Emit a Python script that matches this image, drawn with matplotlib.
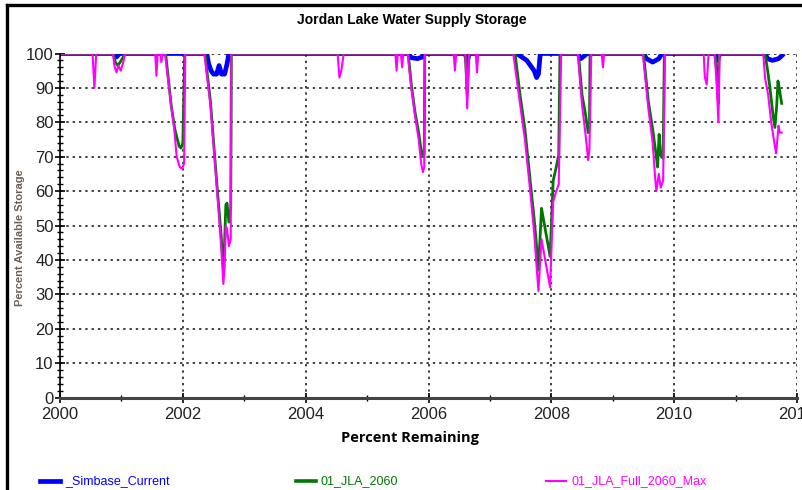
import matplotlib
matplotlib.use("Agg")
import matplotlib.pyplot as plt
from matplotlib.lines import Line2D
from matplotlib.ticker import MultipleLocator

# series (year, percent available storage)
simbase_years = [2000.00,
                 2000.87, 2000.92, 2000.97,
                 2002.39, 2002.42, 2002.46, 2002.50, 2002.55, 2002.59, 2002.63, 2002.68, 2002.72, 2002.75,
                 2005.67, 2005.72, 2005.82, 2005.90, 2005.94,
                 2006.60, 2006.63, 2006.66,
                 2007.43, 2007.50, 2007.60, 2007.66, 2007.72, 2007.76, 2007.79, 2007.82,
                 2008.43, 2008.48, 2008.55, 2008.58,
                 2009.50, 2009.55, 2009.65, 2009.75, 2009.80,
                 2010.68, 2010.71, 2010.74,
                 2011.48, 2011.52, 2011.60, 2011.70, 2011.76]
simbase_vals = [100,
                100, 99, 100,
                100, 97, 95, 94, 94, 96.5, 94, 94, 97, 100,
                100, 98.8, 98.5, 99, 100,
                100, 97.5, 100,
                100, 99.2, 98, 96.5, 95, 93, 94, 100,
                100, 98.5, 99.5, 100,
                100, 98.5, 97.5, 98.5, 100,
                100, 98, 100,
                100, 98.5, 98, 98.5, 99.5]

jla_years = [2000.00,
             2000.87, 2000.90, 2000.94, 2000.98, 2001.03, 2001.05,
             2001.72, 2001.81, 2001.87, 2001.94, 2001.97, 2002.00, 2002.03,
             2002.36, 2002.45, 2002.55, 2002.62, 2002.66, 2002.68, 2002.70, 2002.72, 2002.75, 2002.78, 2002.79,
             2005.67, 2005.72, 2005.78, 2005.84, 2005.88, 2005.91, 2005.93, 2005.94,
             2006.60, 2006.63, 2006.66,
             2007.41, 2007.49, 2007.57, 2007.65, 2007.72, 2007.76, 2007.79, 2007.84, 2007.90, 2007.98,
             2008.03, 2008.08, 2008.12, 2008.14,
             2008.44, 2008.50, 2008.55, 2008.60, 2008.62, 2008.63,
             2009.50, 2009.58, 2009.65, 2009.71, 2009.73, 2009.755, 2009.78, 2009.82, 2009.84,
             2010.66, 2010.69, 2010.72, 2010.73,
             2011.48, 2011.53, 2011.56, 2011.61, 2011.64, 2011.67, 2011.69, 2011.71, 2011.75]
jla_vals = [100,
            100, 97.5, 96.5, 97.5, 99, 100,
            100, 85, 78, 73, 72.5, 74, 100,
            100, 86, 63, 48, 38, 45, 56, 56.5, 51, 55, 100,
            100, 91, 83, 77, 72, 70, 71, 100,
            100, 88, 100,
            100, 88, 78, 64, 52, 44, 37, 55, 49, 41,
            63, 67, 70.5, 100,
            100, 88, 83, 77, 78, 100,
            100, 86, 78, 70, 67, 76.5, 70.5, 69.5, 100,
            100, 95, 85.5, 100,
            100, 94, 90, 82, 78.5, 85, 92, 90, 85.5]

full_years = [2000.00,
              2000.53, 2000.56, 2000.59,
              2000.86, 2000.89, 2000.92, 2000.95, 2000.99, 2001.03, 2001.06,
              2001.55, 2001.57, 2001.59, 2001.63, 2001.65, 2001.67,
              2001.71, 2001.79, 2001.86, 2001.90, 2001.95, 2001.99, 2002.02, 2002.04,
              2002.35, 2002.45, 2002.55, 2002.62, 2002.66, 2002.68, 2002.70, 2002.72, 2002.75, 2002.78, 2002.79,
              2004.52, 2004.55, 2004.58, 2004.62,
              2005.46, 2005.48, 2005.50, 2005.55, 2005.57, 2005.59,
              2005.66, 2005.72, 2005.78, 2005.84, 2005.88, 2005.91, 2005.93, 2005.94,
              2006.41, 2006.43, 2006.45, 2006.60, 2006.63, 2006.66, 2006.77, 2006.79, 2006.81,
              2007.38, 2007.47, 2007.57, 2007.65, 2007.72, 2007.76, 2007.79, 2007.84, 2007.90, 2007.98,
              2008.03, 2008.08, 2008.12, 2008.16,
              2008.43, 2008.50, 2008.56, 2008.60, 2008.62, 2008.65,
              2008.82, 2008.84, 2008.86,
              2009.49, 2009.58, 2009.65, 2009.69, 2009.71, 2009.75, 2009.78, 2009.82, 2009.85,
              2010.48, 2010.50, 2010.53, 2010.56, 2010.66, 2010.69, 2010.72, 2010.74,
              2011.45, 2011.48, 2011.53, 2011.58, 2011.64, 2011.66, 2011.70, 2011.72, 2011.75]
full_vals = [100,
             100, 90, 100,
             100, 96, 94.5, 96.5, 95, 97.5, 100,
             100, 93.5, 100, 100, 97.5, 100,
             100, 88, 78, 70, 67, 66.5, 68, 100,
             100, 85, 62, 45, 33, 38, 50, 49, 44, 46, 100,
             100, 93, 95, 100,
             100, 95, 100, 100, 96, 100,
             100, 90, 82, 75, 68, 65.5, 67, 100,
             100, 95, 100, 100, 84, 100, 100, 94.5, 100,
             100, 88, 75, 61, 48, 38, 31, 46, 40, 32,
             57, 60, 62, 100,
             100, 85, 76, 69, 72, 100,
             100, 96, 100,
             100, 84, 74, 64, 60, 65, 61, 63, 100,
             100, 93, 91, 100, 100, 92, 80, 100,
             100, 93, 88, 80, 73, 71, 79, 77, 77]

names = ["_Simbase_Current", "01_JLA_2060", "01_JLA_Full_2060_Max"]
colors = ["#0000ff", "#007800", "#ff00ff"]

narrow = ["Liberation Sans", "DejaVu Sans"]

fig = plt.figure(figsize=(8.03, 4.90), dpi=100)
ax = fig.add_axes([60 / 803, 1 - 397.5 / 490, 737 / 803, 344 / 490])

ax.plot(simbase_years, simbase_vals, color=colors[0], lw=3.4, solid_joinstyle="round")
ax.plot(jla_years, jla_vals, color=colors[1], lw=2.0)
ax.plot(full_years, full_vals, color=colors[2], lw=1.5)

ax.set_xlim(2000, 2012)
ax.set_ylim(0, 100)
ax.xaxis.set_major_locator(MultipleLocator(2))
ax.xaxis.set_minor_locator(MultipleLocator(1))
ax.yaxis.set_major_locator(MultipleLocator(10))
ax.yaxis.set_minor_locator(MultipleLocator(2))
ax.grid(True, which="major", color="#333333", linestyle=(0, (1.3, 2.2)), linewidth=1.3)
ax.tick_params(axis="both", which="major", direction="inout", length=7, width=1.2, labelsize=12, pad=1)
ax.tick_params(axis="x", which="major", pad=3)
ax.tick_params(axis="both", which="minor", direction="inout", length=5, width=1.0)
for lab in ax.get_xticklabels() + ax.get_yticklabels():
    lab.set_family(narrow)
    lab.set_color("#222222")
ax.spines["top"].set_visible(False)
ax.spines["right"].set_visible(False)
ax.spines["bottom"].set_linewidth(2.2)
ax.spines["bottom"].set_color("#444444")
ax.spines["left"].set_linewidth(1.2)

fig.text(412 / 803, 1 - 20 / 490, "Jordan Lake Water Supply Storage", ha="center", va="center",
         fontsize=10, fontweight="bold", family=narrow)
fig.text(410 / 803, 1 - 438 / 490, "Percent Remaining", ha="center", va="center",
         fontsize=10.5, fontweight="bold", family=["Open Sans", "DejaVu Sans"])
fig.text(20 / 803, 1 - 238 / 490, "Percent Available Storage", ha="center", va="center",
         rotation=90, fontsize=8, fontweight="bold", color="#6e5f55", family=narrow)

# legend row along the bottom
leg_x = [40, 296, 546]
leg_w = [3.4, 2.6, 1.5]
for i in range(3):
    x0 = leg_x[i] / 803
    fig.add_artist(Line2D([x0, x0 + 20 / 803], [1 - 481 / 490] * 2, color=colors[i], lw=leg_w[i]))
    fig.text(x0 + 25 / 803, 1 - 481 / 490, names[i], ha="left", va="center",
             fontsize=9, color=colors[i], family=narrow)

# outer frame of the original screenshot
fig.add_artist(Line2D([7.5 / 803, 7.5 / 803], [0, 1 - 5 / 490], color="black", lw=2.4))
fig.add_artist(Line2D([7.5 / 803, 1], [1 - 5 / 490, 1 - 5 / 490], color="black", lw=2.4))

fig.savefig("out.png", dpi=100)
